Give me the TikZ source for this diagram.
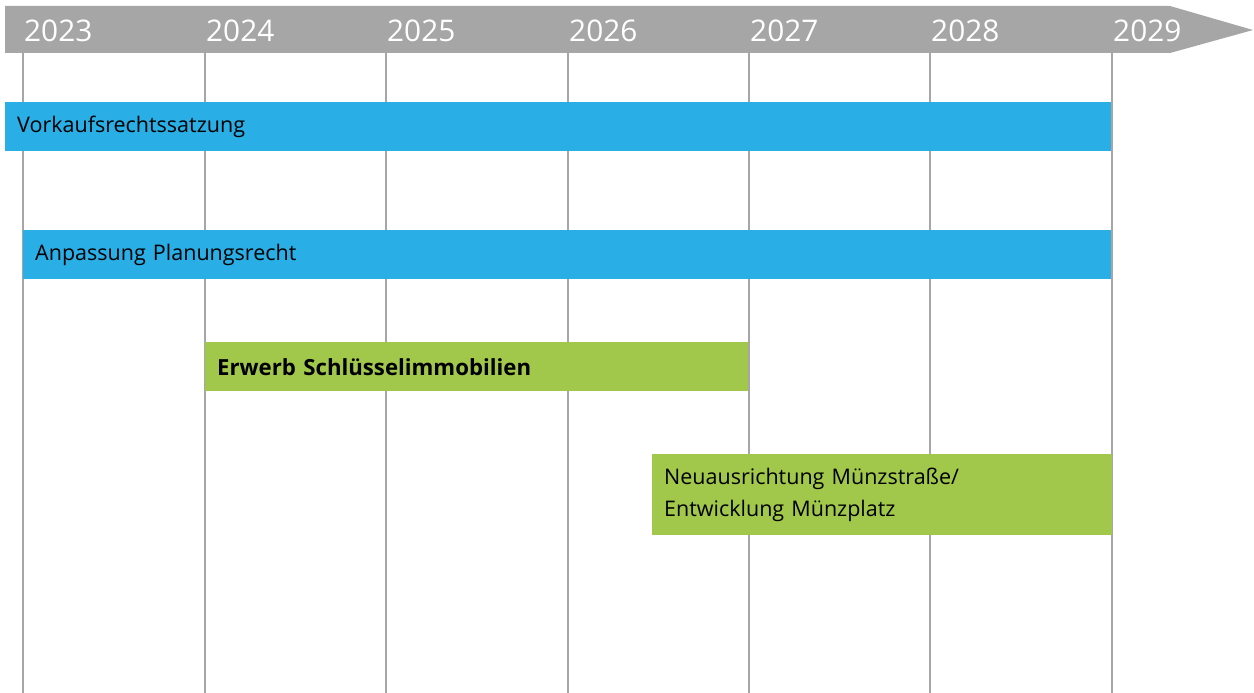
\documentclass[tikz,border=0pt]{standalone}
\usepackage{fontspec}
\setmainfont{Open Sans}
\definecolor{hdrgray}{HTML}{A6A6A6}
\definecolor{barblue}{HTML}{29AEE6}
\definecolor{bargreen}{HTML}{A2C84B}
\tikzset{
  yearlabel/.style={anchor=base west, text=white, inner sep=0pt, font=\fontsize{29.8}{34}\selectfont},
  gridline/.style={draw=hdrgray, line width=2.6pt},
  bar/.style={anchor=north west, inner xsep=12pt, inner ysep=0pt, align=left, font=\fontsize{21.5}{32}\selectfont, text=black},
}
\begin{document}
\begin{tikzpicture}[x=1pt,y=-1pt]
\useasboundingbox (0,0) rectangle (1254,693);
% header arrow
\fill[hdrgray] (5,6) -- (1170,6) -- (1253,30) -- (1170,53) -- (5,53) -- cycle;
% grid lines
\foreach \x/\yr [count=\i] in {23/2023,205/2024,386/2025,568/2026,749/2027,930/2028,1112/2029}{
  \coordinate (t\i) at (\x,53);
  \coordinate (b\i) at (\x,693);
  \draw[gridline] (t\i) -- (b\i);
  \node[yearlabel] (y\i) at (\x+1,42) {\yr};
}
% bars
\node[bar, fill=barblue, minimum width=1106pt, minimum height=49pt, text width=1082pt] (vk) at (5,102) {Vorkaufsrechtssatzung};
\node[bar, fill=barblue, minimum width=1088pt, minimum height=49pt, text width=1064pt] (ap) at (23,230) {Anpassung Planungsrecht};
\node[bar, fill=bargreen, minimum width=543pt, minimum height=49pt, text width=519pt, font=\fontsize{22.2}{32}\selectfont\bfseries] (ew) at (205,342) {Erwerb Schlüsselimmobilien};
\node[bar, fill=bargreen, minimum width=460pt, minimum height=81pt, text width=436pt] (nm) at (652,454) {Neuausrichtung Münzstraße/\\Entwicklung Münzplatz};
\end{tikzpicture}
\end{document}
